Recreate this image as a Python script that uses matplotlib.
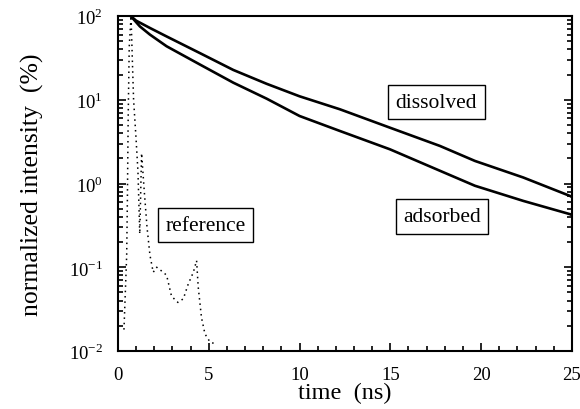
import matplotlib
matplotlib.use('Agg')
import matplotlib.pyplot as plt
from matplotlib.ticker import LogLocator, MultipleLocator, NullFormatter

plt.rcParams['font.family'] = 'Liberation Serif'
plt.rcParams['mathtext.fontset'] = 'custom'
plt.rcParams['mathtext.rm'] = 'Liberation Serif'

# decay curves (time in ns, intensity in %)
t_dis = [0.7, 1.0, 1.76, 2.68, 4.52, 6.35, 8.19, 10.0, 12.22, 14.98, 17.73, 19.66, 22.32, 24.9, 25.0]
y_dis = [100, 88, 72, 57, 36, 22.7, 15.5, 11.0, 7.7, 4.64, 2.81, 1.86, 1.18, 0.71, 0.69]

t_ads = [0.7, 1.21, 1.76, 2.68, 4.52, 6.35, 8.19, 10.0, 12.22, 14.98, 17.73, 19.66, 22.32, 24.9, 25.0]
y_ads = [100, 75, 60, 43.5, 26.3, 16.0, 10.3, 6.4, 4.24, 2.56, 1.42, 0.94, 0.62, 0.43, 0.42]

t_ref = [0.33, 0.48, 0.52, 0.56, 0.62, 0.72, 0.8, 0.86, 0.99, 1.1, 1.2, 1.3, 1.45, 1.6, 1.76,
         1.94, 2.13, 2.5, 2.68, 2.95, 3.3, 3.6, 3.87, 4.15, 4.33, 4.42, 4.6, 4.79, 5.07, 5.43]
y_ref = [0.018, 0.14, 0.68, 5.6, 43, 100, 26, 10, 3.6, 1.4, 0.25, 2.3, 0.8, 0.3, 0.14,
         0.087, 0.1, 0.087, 0.08, 0.045, 0.038, 0.042, 0.063, 0.087, 0.12, 0.058, 0.025, 0.016, 0.0128, 0.012]

fig = plt.figure(figsize=(5.8, 4.1), dpi=100)
ax = fig.add_axes([0.2034, 0.1415, 0.7826, 0.817])

ax.plot(t_dis, y_dis, color='black', lw=1.9)
ax.plot(t_ads, y_ads, color='black', lw=1.9)
ax.plot(t_ref, y_ref, color='black', lw=1.1, ls=(0, (1, 2.5)))

ax.set_yscale('log')
ax.set_xlim(0, 25)
ax.set_ylim(1e-2, 1e2)

ax.set_xticks([0, 5, 10, 15, 20, 25])
ax.xaxis.set_minor_locator(MultipleLocator(1))
ax.set_yticks([1e-2, 1e-1, 1e0, 1e1, 1e2])
ax.set_yticklabels(['$10^{-2}$', '$10^{-1}$', '$10^{0}$', '$10^{1}$', '$10^{2}$'])
ax.yaxis.set_minor_locator(LogLocator(base=10, subs=range(2, 10)))
ax.yaxis.set_minor_formatter(NullFormatter())

ax.tick_params(which='both', direction='in', top=False, right=True, width=1.2, labelsize=13.5)
ax.tick_params(which='major', length=6)
ax.tick_params(which='minor', length=3.5)
ax.tick_params(axis='x', which='major', pad=11)
ax.tick_params(axis='y', which='major', pad=11)
for s in ax.spines.values():
    s.set_linewidth(1.5)

ax.set_xlabel('time  (ns)', fontsize=17.5, labelpad=-1)
ax.set_ylabel('normalized intensity  (%)', fontsize=18.5, labelpad=18)

box = dict(boxstyle='square,pad=0.35', facecolor='white', edgecolor='black', lw=1)
ax.text(0.7015, 0.742, 'dissolved', transform=ax.transAxes, ha='center', va='center', fontsize=15.5, bbox=box)
ax.text(0.714, 0.4015, 'adsorbed', transform=ax.transAxes, ha='center', va='center', fontsize=15.5, bbox=box)
ax.text(0.1927, 0.375, 'reference', transform=ax.transAxes, ha='center', va='center', fontsize=15.5, bbox=box)

plt.savefig('out.png', dpi=100)
